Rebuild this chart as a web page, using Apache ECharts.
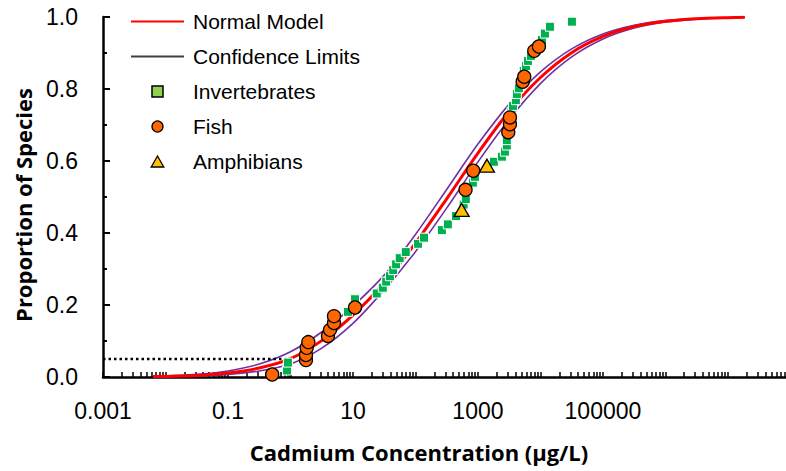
<!DOCTYPE html>
<html><head><meta charset="utf-8">
<script src="https://cdn.jsdelivr.net/npm/echarts@6/dist/echarts.min.js"></script>
<style>html,body{margin:0;padding:0;background:#fff}#c{width:786px;height:471px}</style>
</head><body><div id="c"></div>
<script>
// ---- data (concentrations in µg/L, proportions of species) ----
const xTickValues = [0.001, 0.1, 10, 1000, 100000];
const xTickLabels = ['0.001', '0.1', '10', '1000', '100000'];
const yTickLabels = ['0.0', '0.2', '0.4', '0.6', '0.8', '1.0'];
const xAxisMin = 0.001;
const xAxisMax = 8.5e7;

const invertebratesConc = [0.88, 0.91, 8.3, 10.8, 24, 30, 34, 39, 44, 49, 56, 70, 110, 137, 265, 330, 445, 590, 640, 830, 895, 1800, 2420, 2700, 2900, 2900, 3450, 3630, 4050, 4200, 4530, 5400, 5860, 6310, 7050, 10600, 11800, 14200, 31900];
const invertebratesProp = [0.018, 0.040, 0.181, 0.216, 0.232, 0.248, 0.265, 0.280, 0.297, 0.313, 0.330, 0.347, 0.370, 0.387, 0.408, 0.424, 0.447, 0.479, 0.494, 0.540, 0.556, 0.598, 0.612, 0.626, 0.643, 0.658, 0.737, 0.753, 0.769, 0.786, 0.802, 0.850, 0.864, 0.878, 0.892, 0.936, 0.954, 0.973, 0.987];

const fishConc = [0.51, 1.77, 1.77, 1.82, 1.93, 3.98, 4.29, 4.97, 4.97, 10.8, 633, 841, 3055, 3251, 3251, 5190, 5508, 7960, 9462];
const fishProp = [0.007, 0.047, 0.061, 0.081, 0.097, 0.114, 0.131, 0.150, 0.169, 0.193, 0.520, 0.573, 0.680, 0.702, 0.721, 0.820, 0.834, 0.906, 0.918];

const amphibiansConc = [548, 1393];
const amphibiansProp = [0.464, 0.587];

const curveConc = [0.0063, 0.0316, 0.1, 0.316, 1, 3.16, 10, 31.6, 100, 316, 1000, 3160, 10000, 31600, 100000, 316000, 1000000, 3160000, 10000000, 18600000];
const normalModelProp = [0.0011, 0.0045, 0.0111, 0.0249, 0.0509, 0.101, 0.172, 0.262, 0.372, 0.495, 0.622, 0.738, 0.832, 0.901, 0.946, 0.9735, 0.988, 0.9951, 0.9982, 0.999];
const lowerLimitProp = [0.0019, 0.0072, 0.0169, 0.036, 0.0702, 0.125, 0.197, 0.283, 0.396, 0.521, 0.647, 0.758, 0.8476, 0.9116, 0.953, 0.9772, 0.990, 0.996, 0.9985, 0.9992];
const upperLimitProp = [0.0006, 0.0028, 0.0072, 0.0169, 0.036, 0.080, 0.149, 0.242, 0.348, 0.469, 0.5975, 0.716, 0.815, 0.889, 0.9388, 0.9693, 0.9859, 0.9941, 0.9978, 0.9987];

const hc5Conc = 1.0;
const hc5Prop = 0.05;

// ---- build ----
const lg = v => Math.log10(v);
const pts = (xs, ys) => xs.map((x, i) => [lg(x), ys[i]]);
const xMinLog = lg(xAxisMin), xMaxLog = lg(xAxisMax);

const tickVals = [];
for (let d = Math.ceil(xMinLog); d <= Math.floor(xMaxLog); d++) {
  tickVals.push(d);
  for (let k = 2; k <= 9; k++) { const v = d + Math.log10(k); if (v <= xMaxLog) tickVals.push(v); }
}
const xLabelVals = xTickValues.map(lg);

const FONT = 'Liberation Sans, Arial, sans-serif';
const LINE_ICON = 'path://M0,0H53V2H0Z';
const chart = echarts.init(document.getElementById('c'), null, {renderer: 'svg', width: 786, height: 471});
chart.setOption({
  animation: false,
  backgroundColor: '#fff',
  grid: {left: 103, right: 0, top: 17, bottom: 94, containLabel: false, outerBoundsMode: 'none'},
  xAxis: {
    type: 'value', min: xMinLog, max: xMaxLog,
    axisLine: {onZero: false, lineStyle: {color: '#000', width: 2.5}},
    axisTick: {inside: true, length: 5, customValues: tickVals, lineStyle: {color: '#000', width: 1.5}},
    axisLabel: {
      customValues: xLabelVals, margin: 22, fontSize: 23, color: '#000', fontFamily: FONT,
      formatter: v => { const i = xLabelVals.findIndex(t => Math.abs(t - v) < 1e-6); return i >= 0 ? xTickLabels[i] : ''; }
    },
    splitLine: {show: false}
  },
  yAxis: {
    type: 'value', min: 0, max: 1, interval: 0.2,
    axisLine: {onZero: false, lineStyle: {color: '#000', width: 2.5}},
    axisTick: {inside: true, length: 7, lineStyle: {color: '#000', width: 2}},
    minorTick: {show: true, splitNumber: 2, length: 4, lineStyle: {color: '#000', width: 2}},
    axisLabel: {margin: 25, fontSize: 23, color: '#000', fontFamily: FONT,
      formatter: v => yTickLabels[Math.round(v / 0.2)]},
    splitLine: {show: false}
  },
  legend: {
    orient: 'vertical', left: 131, top: 11, padding: 0,
    itemWidth: 53, itemHeight: 11, itemGap: 14, symbolKeepAspect: true,
    textStyle: {fontSize: 21, fontFamily: FONT, color: '#000', lineHeight: 21, padding: [0, 0, 0, 4]},
    data: [
      {name: 'Normal Model', icon: LINE_ICON, itemStyle: {color: '#FF0000', borderWidth: 0}},
      {name: 'Confidence Limits', icon: LINE_ICON, itemStyle: {color: '#404040', borderWidth: 0}},
      {name: 'Invertebrates', icon: 'path://M0,0H10V10H0Z', itemStyle: {color: '#92D050', borderColor: '#000', borderWidth: 1.5}},
      {name: 'Fish', icon: 'circle', itemStyle: {color: '#FF6600', borderColor: '#000', borderWidth: 1.3}},
      {name: 'Amphibians', icon: 'path://M6,0L12,10.5L0,10.5Z', itemStyle: {color: '#FFC000', borderColor: '#000', borderWidth: 1.3}}
    ]
  },
  graphic: [
    {type: 'text', x: 419, y: 452, style: {text: 'Cadmium Concentration (μg/L)', font: 'bold 22px "Open Sans", sans-serif', fill: '#000', align: 'center', verticalAlign: 'middle', textAlign: 'center', textVerticalAlign: 'middle'}},
    {type: 'text', x: 23, y: 205, rotation: Math.PI / 2, style: {text: 'Proportion of Species', font: 'bold 22px "Open Sans", sans-serif', fill: '#000', align: 'center', verticalAlign: 'middle', textAlign: 'center', textVerticalAlign: 'middle'}}
  ],
  series: [
    {name: 'Normal Model', type: 'line', data: pts(curveConc, normalModelProp), symbol: 'none', smooth: 0.3,
      lineStyle: {color: '#FF0000', width: 3}, itemStyle: {color: '#FF0000'}, z: 3},
    {name: 'Confidence Limits', type: 'line', data: pts(curveConc, lowerLimitProp), symbol: 'none', smooth: 0.3,
      lineStyle: {color: '#7030A0', width: 1.6}, itemStyle: {color: '#7030A0'}, z: 2},
    {name: 'Confidence Limits', type: 'line', data: pts(curveConc, upperLimitProp), symbol: 'none', smooth: 0.3,
      lineStyle: {color: '#7030A0', width: 1.6}, itemStyle: {color: '#7030A0'}, z: 2},
    {name: 'HC5', type: 'line', symbol: 'none', z: 2,
      data: [[xMinLog, hc5Prop], [lg(hc5Conc), hc5Prop], [lg(hc5Conc), 0]],
      lineStyle: {color: '#000', width: 2.5, type: [2.5, 3]}},
    {name: 'Invertebrates', type: 'scatter', data: pts(invertebratesConc, invertebratesProp), symbol: 'rect', symbolSize: 9,
      itemStyle: {color: '#00B050', borderColor: '#fff', borderWidth: 1, opacity: 1}, z: 4},
    {name: 'Fish', type: 'scatter', data: pts(fishConc, fishProp), symbol: 'circle', symbolSize: 13,
      itemStyle: {color: '#FF6600', borderColor: '#000', borderWidth: 1.3, opacity: 1}, z: 5},
    {name: 'Amphibians', type: 'scatter', data: pts(amphibiansConc, amphibiansProp), symbol: 'triangle', symbolSize: [15, 13],
      itemStyle: {color: '#FFC000', borderColor: '#000', borderWidth: 1.3, opacity: 1}, z: 5}
  ]
});
</script></body></html>
